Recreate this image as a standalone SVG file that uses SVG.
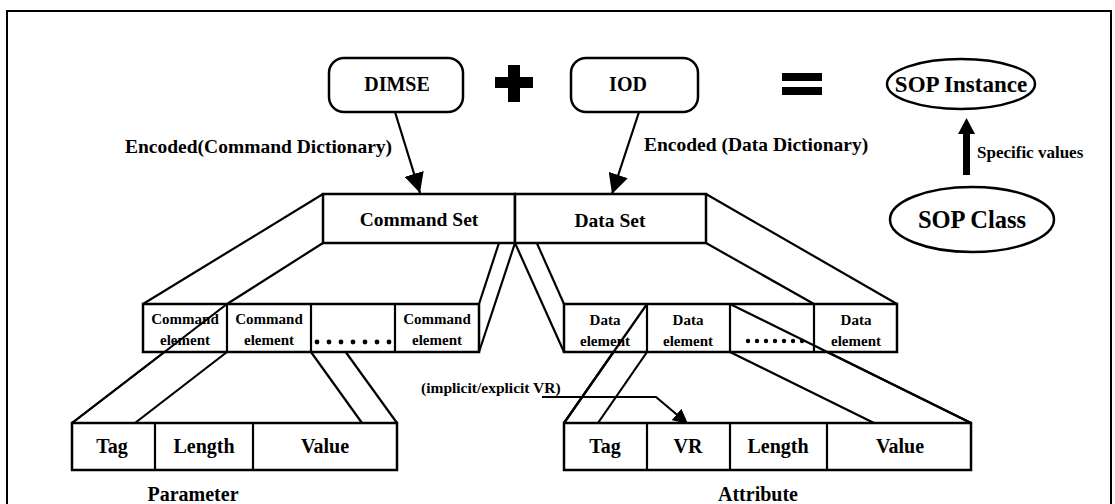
<svg xmlns="http://www.w3.org/2000/svg" width="1115" height="504" viewBox="0 0 1115 504">
  <style>
    text { font-family: "Liberation Serif", "Times New Roman", serif; font-weight: bold; fill: #000; }
    .box { fill: #fff; stroke: #000; stroke-width: 2.5; }
    .ln { fill: none; stroke: #000; stroke-width: 2.2; }
    .solid { fill: #000; stroke: none; }
    .c { text-anchor: middle; }
  </style>
  <defs>
    <marker id="head" viewBox="0 0 10 10" refX="10" refY="5" markerWidth="20" markerHeight="20" markerUnits="userSpaceOnUse" orient="auto">
      <path d="M0,0 L10,5 L0,10 Z" fill="#000"/>
    </marker>
    <marker id="headSmall" viewBox="0 0 10 10" refX="10" refY="5" markerWidth="15" markerHeight="15" markerUnits="userSpaceOnUse" orient="auto">
      <path d="M0,0 L10,5 L0,10 Z" fill="#000"/>
    </marker>
  </defs>

  <rect width="1115" height="504" fill="#fff"/>
  <!-- outer frame (open at the bottom edge of the canvas) -->
  <rect x="7" y="11" width="1104" height="520" fill="none" stroke="#000" stroke-width="2"/>

  <!-- connectors -->
  <g id="connectors">
    <!-- encoding arrows -->
    <line class="ln" x1="395" y1="112" x2="420" y2="193" marker-end="url(#head)"/>
    <line class="ln" x1="639" y1="112" x2="612" y2="194" marker-end="url(#head)"/>
    <!-- specific values arrow -->
    <rect class="solid" x="963" y="130" width="7" height="45"/>
    <path class="solid" d="M958,134 L966.5,118 L975,134 Z"/>
    <!-- command set expansion -->
    <line class="ln" x1="323" y1="194" x2="143" y2="304"/>
    <line class="ln" x1="323" y1="243" x2="227" y2="304"/>
    <line class="ln" x1="515" y1="194" x2="479" y2="304"/>
    <line class="ln" x1="515" y1="243" x2="479" y2="352"/>
    <!-- data set expansion -->
    <line class="ln" x1="515" y1="194" x2="564" y2="304"/>
    <line class="ln" x1="515" y1="243" x2="564" y2="352"/>
    <line class="ln" x1="706" y1="194" x2="897" y2="304"/>
    <line class="ln" x1="706" y1="243" x2="814" y2="304"/>
    <!-- command element to parameter -->
    <line class="ln" x1="227" y1="304" x2="72" y2="423"/>
    <line class="ln" x1="227" y1="352" x2="135" y2="423"/>
    <line class="ln" x1="311" y1="304" x2="397" y2="423"/>
    <line class="ln" x1="311" y1="352" x2="362" y2="423"/>
    <!-- data element to attribute -->
    <line class="ln" x1="647" y1="304" x2="564" y2="423"/>
    <line class="ln" x1="647" y1="352" x2="598" y2="423"/>
    <line class="ln" x1="730" y1="304" x2="971" y2="423"/>
    <line class="ln" x1="730" y1="352" x2="874" y2="423"/>
    <!-- VR callout -->
    <polyline class="ln" points="542,397 656,397 688,424" marker-end="url(#headSmall)"/>

    <text x="125" y="153" font-size="19.5">Encoded(Command Dictionary)</text>
    <text x="644" y="151" font-size="19.5">Encoded (Data Dictionary)</text>
    <text x="977" y="158" font-size="17">Specific values</text>
    <text x="421" y="393" font-size="15.5">(implicit/explicit VR)</text>
  </g>

  <g id="dimse">
    <rect class="box" x="329" y="58" width="134" height="54" rx="15"/>
    <text class="c" x="397" y="91" font-size="20">DIMSE</text>
  </g>

  <g id="plus">
    <path class="solid" d="M508,65 H520 V77 H533 V88 H520 V102 H508 V88 H495 V77 H508 Z"/>
  </g>

  <g id="iod">
    <rect class="box" x="571" y="58" width="127" height="54" rx="15"/>
    <text class="c" x="628" y="91" font-size="20">IOD</text>
  </g>

  <g id="equals">
    <rect class="solid" x="782" y="73" width="40" height="8"/>
    <rect class="solid" x="782" y="87" width="40" height="8"/>
  </g>

  <g id="sop-instance">
    <ellipse class="box" cx="961" cy="84" rx="74" ry="25"/>
    <text class="c" x="961" y="92" font-size="23">SOP Instance</text>
  </g>

  <g id="sop-class">
    <ellipse class="box" cx="972" cy="219.5" rx="82" ry="32.5"/>
    <text class="c" x="972" y="228" font-size="24.5">SOP Class</text>
  </g>

  <g id="command-set">
    <rect class="box" x="323" y="194" width="192" height="49"/>
    <text class="c" x="419" y="226" font-size="19.5">Command Set</text>
  </g>

  <g id="data-set">
    <rect class="box" x="515" y="194" width="191" height="49"/>
    <text class="c" x="610" y="227" font-size="19.5">Data Set</text>
  </g>

  <g id="command-elements">
    <rect class="box" x="143" y="304" width="336" height="48"/>
    <line class="ln" x1="227" y1="304" x2="227" y2="352"/>
    <line class="ln" x1="311" y1="304" x2="311" y2="352"/>
    <line class="ln" x1="395" y1="304" x2="395" y2="352"/>
    <text class="c" x="185" y="324" font-size="15">Command</text>
    <text class="c" x="185" y="345" font-size="15">element</text>
    <text class="c" x="269" y="324" font-size="15">Command</text>
    <text class="c" x="269" y="345" font-size="15">element</text>
    <g class="solid">
      <circle cx="317" cy="342" r="2.4"/><circle cx="329" cy="342" r="2.4"/>
      <circle cx="341" cy="342" r="2.4"/><circle cx="353" cy="342" r="2.4"/>
      <circle cx="365" cy="342" r="2.4"/><circle cx="377" cy="342" r="2.4"/>
      <circle cx="389" cy="342" r="2.4"/>
    </g>
    <text class="c" x="437" y="324" font-size="15">Command</text>
    <text class="c" x="437" y="345" font-size="15">element</text>
  </g>

  <g id="data-elements">
    <rect class="box" x="564" y="304" width="333" height="48"/>
    <line class="ln" x1="647" y1="304" x2="647" y2="352"/>
    <line class="ln" x1="730" y1="304" x2="730" y2="352"/>
    <line class="ln" x1="814" y1="304" x2="814" y2="352"/>
    <text class="c" x="605" y="325" font-size="15">Data</text>
    <text class="c" x="605" y="346" font-size="15">element</text>
    <text class="c" x="688" y="325" font-size="15">Data</text>
    <text class="c" x="688" y="346" font-size="15">element</text>
    <g class="solid">
      <circle cx="748" cy="341" r="2.2"/><circle cx="757" cy="341" r="2.2"/>
      <circle cx="766" cy="341" r="2.2"/><circle cx="775" cy="341" r="2.2"/>
      <circle cx="784" cy="341" r="2.2"/><circle cx="793" cy="341" r="2.2"/>
      <circle cx="802" cy="341" r="2.2"/>
    </g>
    <text class="c" x="856" y="325" font-size="15">Data</text>
    <text class="c" x="856" y="346" font-size="15">element</text>
  </g>

  <!-- lines that cross over the element boxes -->
  <g id="connectors-over">
    <line class="ln" x1="227" y1="304" x2="72" y2="423"/>
    <line class="ln" x1="647" y1="304" x2="564" y2="423"/>
    <line class="ln" x1="730" y1="304" x2="971" y2="423"/>
  </g>

  <g id="parameter">
    <rect class="box" x="72" y="423" width="325" height="47"/>
    <line class="ln" x1="155" y1="423" x2="155" y2="470"/>
    <line class="ln" x1="253" y1="423" x2="253" y2="470"/>
    <text class="c" x="112" y="453" font-size="20">Tag</text>
    <text class="c" x="204" y="453" font-size="20">Length</text>
    <text class="c" x="325" y="453" font-size="20">Value</text>
    <text class="c" x="193" y="501" font-size="20">Parameter</text>
  </g>

  <g id="attribute">
    <rect class="box" x="564" y="423" width="407" height="47"/>
    <line class="ln" x1="647" y1="423" x2="647" y2="470"/>
    <line class="ln" x1="730" y1="423" x2="730" y2="470"/>
    <line class="ln" x1="827" y1="423" x2="827" y2="470"/>
    <text class="c" x="605" y="453" font-size="20">Tag</text>
    <text class="c" x="688" y="453" font-size="20">VR</text>
    <text class="c" x="778" y="453" font-size="20">Length</text>
    <text class="c" x="900" y="453" font-size="20">Value</text>
    <text class="c" x="758" y="501" font-size="20">Attribute</text>
  </g>
</svg>
